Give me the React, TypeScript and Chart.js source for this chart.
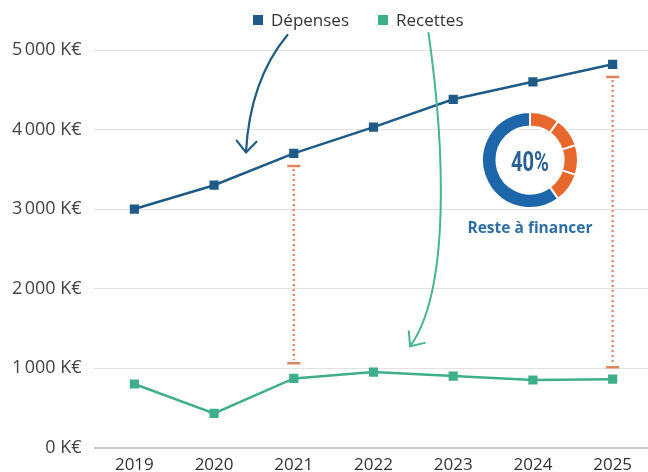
import React, { useEffect, useRef } from 'react';
import { Chart, registerables } from 'chart.js';

Chart.register(...registerables);

// ---- data ----
const years = ['2019', '2020', '2021', '2022', '2023', '2024', '2025'];
const depenses = [3000, 3300, 3700, 4030, 4380, 4600, 4820];
const recettes = [800, 430, 870, 950, 900, 850, 860];
const seriesNames = ['Dépenses', 'Recettes'];
const yMin = 0;
const yMax = 5000;
const yStep = 1000;

// gaps (reste à financer) markers
const gapYears = ['2021', '2025'];
const gapTop = [3540, 4660];
const gapBottom = [1060, 1010];

// donut
const donutValues = [10, 10, 10, 10, 60];
const donutLabel = '40%';
const donutCaption = 'Reste à financer';

// hand-drawn arrows: [categoryIndex, value] points (start, controls..., end)
const arrowDepenses = [[1.92, 5189], [1.45, 4621], [1.4, 3712]];
const arrowRecettes = [[3.69, 5215], [3.9, 3737], [3.96, 1970], [3.46, 1275]];

// ---- styles ----
const BLUE = '#1f5b86';
const GREEN = '#3fae8b';
const ORANGE = '#e8672d';
const DONUT_BLUE = '#1c66a9';
const GAP_COLOR = '#de8660';
const FONT = "'Open Sans', sans-serif";

const fmt = (v: number) =>
  String(v).replace(/\B(?=(\d{3})+(?!\d))/g, '\u202f') + ' K€';

export default function App() {
  const lineRef = useRef<HTMLCanvasElement>(null);
  const donutRef = useRef<HTMLCanvasElement>(null);

  useEffect(() => {
    document.body.style.margin = '0';
    document.body.style.overflow = 'hidden';

    const gapPlugin = {
      id: 'gapPlugin',
      afterDatasetsDraw(chart: any) {
        const { ctx, scales } = chart;
        const x = scales.x;
        const y = scales.y;
        ctx.save();
        gapYears.forEach((yr, i) => {
          const px = x.getPixelForValue(years.indexOf(yr));
          const t = y.getPixelForValue(gapTop[i]);
          const b = y.getPixelForValue(gapBottom[i]);
          ctx.strokeStyle = GAP_COLOR;
          ctx.lineWidth = 2.2;
          ctx.setLineDash([2, 3]);
          ctx.beginPath();
          ctx.moveTo(px, t + 3);
          ctx.lineTo(px, b - 3);
          ctx.stroke();
          ctx.setLineDash([]);
          ctx.lineWidth = 2.5;
          ctx.beginPath();
          ctx.moveTo(px - 6.5, t);
          ctx.lineTo(px + 6.5, t);
          ctx.moveTo(px - 6.5, b);
          ctx.lineTo(px + 6.5, b);
          ctx.stroke();
        });
        ctx.restore();
      },
    };

    const drawArrow = (chart: any, pts: number[][], color: string, width: number) => {
      const { ctx, scales } = chart;
      const p = pts.map(([i, v]) => [scales.x.getPixelForValue(i), scales.y.getPixelForValue(v)]);
      ctx.save();
      ctx.strokeStyle = color;
      ctx.lineWidth = width;
      ctx.lineCap = 'round';
      ctx.lineJoin = 'round';
      ctx.beginPath();
      ctx.moveTo(p[0][0], p[0][1]);
      if (p.length === 3) ctx.quadraticCurveTo(p[1][0], p[1][1], p[2][0], p[2][1]);
      else ctx.bezierCurveTo(p[1][0], p[1][1], p[2][0], p[2][1], p[3][0], p[3][1]);
      ctx.stroke();
      const end = p[p.length - 1];
      const prev = p[p.length - 2];
      const ang = Math.atan2(prev[1] - end[1], prev[0] - end[0]);
      const len = 15;
      const spread = 0.72;
      ctx.beginPath();
      ctx.moveTo(end[0] + len * Math.cos(ang - spread), end[1] + len * Math.sin(ang - spread));
      ctx.lineTo(end[0], end[1]);
      ctx.lineTo(end[0] + len * Math.cos(ang + spread), end[1] + len * Math.sin(ang + spread));
      ctx.stroke();
      ctx.restore();
    };

    const arrowPlugin = {
      id: 'arrowPlugin',
      afterDraw(chart: any) {
        drawArrow(chart, arrowDepenses, '#235c83', 2.2);
        drawArrow(chart, arrowRecettes, '#46b490', 2);
      },
    };

    const chart = new Chart(lineRef.current!, {
      type: 'line',
      data: {
        labels: years,
        datasets: [
          {
            label: seriesNames[0],
            data: depenses,
            borderColor: BLUE,
            backgroundColor: BLUE,
            borderWidth: 2.6,
            pointStyle: 'rect',
            pointRadius: 6.5,
            pointBorderWidth: 0,
            tension: 0,
          },
          {
            label: seriesNames[1],
            data: recettes,
            borderColor: GREEN,
            backgroundColor: GREEN,
            borderWidth: 2.6,
            pointStyle: 'rect',
            pointRadius: 6.5,
            pointBorderWidth: 0,
            tension: 0,
          },
        ],
      },
      options: {
        animation: false,
        responsive: true,
        maintainAspectRatio: false,
        events: [],
        layout: { padding: { top: 50, left: -1, right: 0, bottom: 0 } },
        plugins: { legend: { display: false }, tooltip: { enabled: false } },
        scales: {
          x: {
            offset: true,
            grid: { display: false, drawTicks: false },
            border: { display: false },
            ticks: { font: { family: FONT, size: 17 }, color: '#333', padding: 7 },
          },
          y: {
            min: yMin,
            max: yMax,
            border: { display: false },
            grid: {
              drawTicks: false,
              color: (c: any) => (c.tick && c.tick.value === 0 ? '#c8c8c8' : '#e2e2e2'),
              lineWidth: (c: any) => (c.tick && c.tick.value === 0 ? 2 : 1),
            },
            ticks: {
              stepSize: yStep,
              padding: 13,
              font: { family: FONT, size: 18 },
              color: '#444',
              callback: (v: any) => fmt(Number(v)),
            },
          },
        },
      },
      plugins: [gapPlugin, arrowPlugin],
    });

    const donut = new Chart(donutRef.current!, {
      type: 'doughnut',
      data: {
        datasets: [
          {
            data: donutValues,
            backgroundColor: donutValues.map((_, i) => (i < donutValues.length - 1 ? ORANGE : DONUT_BLUE)),
            borderColor: '#ffffff',
            borderWidth: 2,
          },
        ],
      },
      options: {
        animation: false,
        responsive: false,
        events: [],
        cutout: '70%',
        plugins: { legend: { display: false }, tooltip: { enabled: false } },
      },
    });

    return () => {
      chart.destroy();
      donut.destroy();
    };
  }, []);

  return (
    <div style={{ position: 'fixed', left: 0, top: 0, width: 659, height: 482, background: '#fff' }}>
      <canvas ref={lineRef} />
      <div
        style={{
          position: 'absolute',
          left: 253,
          top: 8,
          display: 'flex',
          alignItems: 'center',
          fontFamily: FONT,
          fontSize: 17,
          color: '#333',
          whiteSpace: 'nowrap',
        }}
      >
        {seriesNames.map((n, i) => (
          <div key={n} style={{ display: 'flex', alignItems: 'center', marginRight: i === 0 ? 29 : 0 }}>
            <span
              style={{
                display: 'inline-block',
                width: 10,
                height: 10,
                background: i === 0 ? BLUE : GREEN,
                marginRight: 8,
              }}
            />
            <span>{n}</span>
          </div>
        ))}
      </div>
      <canvas
        ref={donutRef}
        width={98}
        height={98}
        style={{ position: 'absolute', left: 481, top: 111, width: 98, height: 98 }}
      />
      <div
        style={{
          position: 'absolute',
          left: 480,
          top: 148,
          width: 100,
          textAlign: 'center',
          fontFamily: 'Roboto, sans-serif',
          fontWeight: 700,
          fontSize: 28,
          lineHeight: '28px',
          color: '#2b6394',
          transform: 'scaleX(0.72)',
        }}
      >
        {donutLabel}
      </div>
      <div
        style={{
          position: 'absolute',
          left: 430,
          top: 216,
          width: 200,
          textAlign: 'center',
          fontFamily: FONT,
          fontWeight: 700,
          fontSize: 15.5,
          color: '#2e6fa3',
        }}
      >
        {donutCaption}
      </div>
    </div>
  );
}
